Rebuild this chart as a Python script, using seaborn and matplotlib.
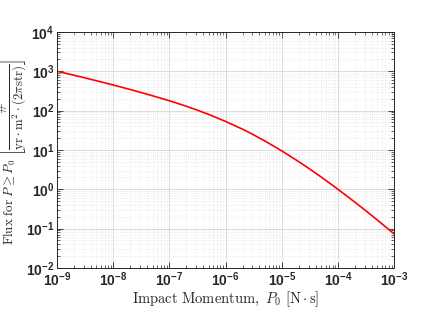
import matplotlib
matplotlib.use("Agg")
import matplotlib.pyplot as plt
import matplotlib.ticker as mticker
import seaborn as sns
import numpy as np
import pandas as pd

# values
momentum = [1e-9, 2e-9, 3e-9, 5e-9,
            1e-8, 2e-8, 3e-8, 5e-8,
            1e-7, 2e-7, 3e-7, 5e-7,
            1e-6, 2e-6, 3e-6, 5e-6,
            1e-5, 2e-5, 3e-5, 5e-5,
            1e-4, 2e-4, 3e-4, 5e-4,
            1e-3]
flux = [1000, 792, 689, 575,
        447, 344, 293, 238,
        178, 129, 105, 80,
        53, 33.7, 25.1, 16.9,
        9.44, 5.04, 3.42, 2.06,
        1.0, 0.470, 0.299, 0.166,
        0.0733]

df = pd.DataFrame({"P0": momentum, "flux": flux})

sns.set_style("ticks")
plt.rcParams["mathtext.fontset"] = "cm"
plt.rcParams["font.family"] = ["Liberation Sans", "DejaVu Sans"]

fig = plt.figure(figsize=(4.36, 3.16), dpi=100)
ax = fig.add_axes([0.131, 0.152, 0.773, 0.747])

sns.lineplot(data=df, x="P0", y="flux", color="red", lw=1.2, ax=ax)

ax.set_xscale("log")
ax.set_yscale("log")
ax.set_xlim(1e-9, 1e-3)
ax.set_ylim(1e-2, 1e4)

ax.xaxis.set_major_locator(mticker.LogLocator(base=10, numticks=10))
ax.yaxis.set_major_locator(mticker.LogLocator(base=10, numticks=10))
ax.xaxis.set_minor_locator(mticker.LogLocator(base=10, subs=np.arange(2, 10), numticks=20))
ax.yaxis.set_minor_locator(mticker.LogLocator(base=10, subs=np.arange(2, 10), numticks=20))
ax.xaxis.set_minor_formatter(mticker.NullFormatter())
ax.yaxis.set_minor_formatter(mticker.NullFormatter())

ax.grid(which="major", color="#dcdcdc", lw=0.7, ls="-")
ax.grid(which="minor", color="#e0e0e0", lw=0.5, ls=":")
ax.set_axisbelow(True)

ax.tick_params(which="both", direction="in", top=True, right=True, color="#262626")
ax.tick_params(which="major", length=4, width=0.6, labelsize=10, pad=2)
ax.tick_params(which="minor", length=2, width=0.5)
for lab in ax.get_xticklabels() + ax.get_yticklabels():
    lab.set_fontweight("bold")
for s in ax.spines.values():
    s.set_color("#262626")
    s.set_linewidth(0.7)

ax.set_xlabel(r"$\mathrm{Impact\ Momentum,}\ P_0\ [\mathrm{N}\cdot\mathrm{s}]$", fontsize=10.5)
ax.set_ylabel(r"$\mathrm{Flux\ for}\ P \geq P_0\ \left[\dfrac{\#}{\mathrm{yr}\cdot\mathrm{m}^2\cdot(2\pi\mathrm{str})}\right]$",
              fontsize=9.3)
ax.yaxis.set_label_coords(-0.084, 0.49)
ax.xaxis.set_label_coords(0.5, -0.092)
ax.xaxis.label.set_va("top")

fig.savefig("out.png", dpi=100)
